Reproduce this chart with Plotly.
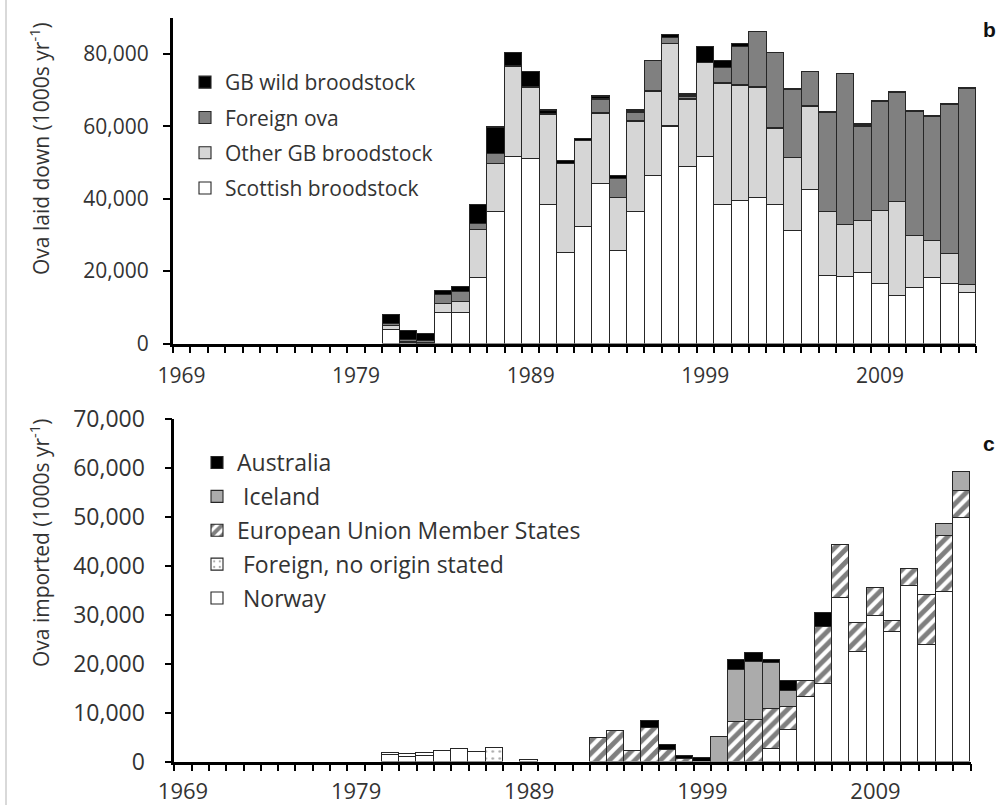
import plotly.graph_objects as go

W, H = 998, 805

# ---------------- data ----------------
years = list(range(1981, 2015))

# Panel b: Ova laid down (1000s per year)
scottish_bs = [3950, 200, 100, 8460, 8460, 18200, 36400, 51500, 51100, 38250,
               25100, 32270, 44100, 25560, 36400, 46250, 59770, 48730, 51490, 38250,
               39350, 40270, 38250, 31080, 42570, 18670, 18390, 19590, 16640, 13330,
               15450, 18210, 16640, 14070]
other_gb_bs = [900, 200, 200, 2570, 3130, 13340, 13240, 24900, 19500, 25000,
               24600, 23630, 19300, 14700, 25000, 23450, 22990, 18490, 26020, 33560,
               31910, 30530, 21150, 20230, 22720, 17740, 14340, 14250, 20140, 25840,
               14430, 10110, 8280, 2300]
foreign_ova = [650, 600, 600, 2580, 2750, 1560, 2760, 300, 200, 100,
               0, 0, 3950, 5340, 2300, 8460, 1650, 1000, 0, 4320,
               10850, 15270, 20870, 18850, 9920, 27310, 41840, 26000, 30160, 30070,
               34300, 34300, 41100, 53970]
gb_wild_bs = [2600, 2700, 1700, 920, 1380, 5330, 7170, 3600, 4300, 1100,
              700, 740, 920, 640, 740, 0, 920, 500, 4600, 2030,
              830, 0, 0, 0, 0, 0, 0, 500, 0, 0,
              0, 0, 0, 0]

# Panel c: Ova imported (1000s per year)
norway = [1300, 1000, 1100, 2220, 2490, 1880, 0, 0, 400, 0,
          0, 0, 0, 0, 0, 0, 0, 0, 0, 0,
          0, 0, 2600, 6490, 13180, 15910, 33330, 22400, 29710, 26500,
          35930, 23770, 34700, 49860]
foreign_no_origin = [500, 470, 570, 0, 0, 0, 2700, 0, 0, 0,
                     0, 0, 0, 0, 0, 0, 0, 0, 0, 0,
                     0, 0, 0, 0, 0, 0, 0, 0, 0, 0,
                     0, 0, 0, 0]
eu_states = [0, 0, 0, 0, 0, 0, 0, 0, 0, 0,
             0, 0, 4900, 6300, 2150, 6800, 2360, 500, 0, 0,
             8060, 8540, 8190, 4640, 3210, 11610, 10930, 5950, 5670, 2190,
             3410, 10240, 11400, 5330]
iceland = [0, 0, 0, 0, 0, 0, 0, 0, 0, 0,
           0, 0, 0, 0, 0, 0, 0, 0, 0, 5000,
           10720, 11810, 9360, 3280, 0, 0, 0, 0, 0, 0,
           0, 0, 2390, 3890]
australia = [0, 0, 0, 0, 0, 0, 0, 0, 0, 0,
             0, 0, 0, 0, 0, 1500, 1020, 600, 700, 0,
             1910, 1850, 680, 1980, 0, 2870, 0, 0, 0, 0,
             0, 0, 0, 0]

tick_years = [1969, 1979, 1989, 1999, 2009]
ticks_b = [0, 20000, 40000, 60000, 80000]
ticks_c = [0, 10000, 20000, 30000, 40000, 50000, 60000, 70000]


def nz(v):
    return [x if x else None for x in v]


def px_x(p):
    return p / W


def px_y(p):
    return 1 - p / H


FONT = "Open Sans"
TXT = "#333333"
OUTLINE = dict(color="#262626", width=1.1)

fig = go.Figure()

# ---- panel b traces (stack bottom -> top); legendrank puts top segment first
b_series = [
    ("Scottish broodstock", scottish_bs, "#ffffff", 4),
    ("Other GB broodstock", other_gb_bs, "#d6d6d6", 3),
    ("Foreign ova", foreign_ova, "#808080", 2),
    ("GB wild broodstock", gb_wild_bs, "#000000", 1),
]
for name, vals, col, rank in b_series:
    fig.add_trace(go.Bar(x=years, y=nz(vals), name=name, xaxis="x", yaxis="y",
                         marker=dict(color=col, line=OUTLINE),
                         legend="legend", legendgroup="b%d" % rank, legendrank=rank))

# ---- panel c traces
c_series = [
    ("\u00a0Norway", norway, dict(color="#ffffff", line=OUTLINE), 5),
    ("\u00a0Foreign, no origin stated", foreign_no_origin,
     dict(color="#ffffff", line=OUTLINE,
          pattern=dict(shape=".", fgcolor="#555555", bgcolor="#ffffff", size=7, solidity=0.12)), 4),
    ("European Union Member States", eu_states,
     dict(color="#ffffff", line=OUTLINE,
          pattern=dict(shape="/", fgcolor="#000000", bgcolor="#ffffff", size=9, solidity=0.55)), 3),
    ("\u00a0Iceland", iceland, dict(color="#ababab", line=OUTLINE), 2),
    ("Australia", australia, dict(color="#000000", line=OUTLINE), 1),
]
for name, vals, mk, rank in c_series:
    fig.add_trace(go.Bar(x=years, y=nz(vals), name=name, xaxis="x2", yaxis="y2",
                         marker=mk, legend="legend2", legendgroup="c%d" % rank,
                         legendrank=rank))

axis_common = dict(showline=True, linecolor="black", showgrid=False, zeroline=False,
                   automargin=False)

fig.update_layout(
    width=W, height=H,
    margin=dict(l=0, r=0, t=0, b=0, autoexpand=False),
    paper_bgcolor="white", plot_bgcolor="white",
    barmode="stack", bargap=0,
    font=dict(family=FONT, color=TXT),
    showlegend=True,
    xaxis=dict(domain=[px_x(172.7), px_x(976)], range=[1968.5, 2014.5],
               tickvals=tick_years, ticks="", ticklabelstandoff=12,
               tickfont=dict(size=21, color=TXT), anchor="y",
               minor=dict(ticks="outside", tick0=1968.5, dtick=1, ticklen=7,
                          tickwidth=2, tickcolor="black"),
               linewidth=2.5, **axis_common),
    yaxis=dict(domain=[px_y(343.5), px_y(17.6)], range=[0, 90000],
               tickvals=ticks_b, tickformat=",", ticks="outside", ticklen=7,
               tickwidth=2, tickcolor="black", ticklabelstandoff=10,
               tickfont=dict(size=21, color=TXT), anchor="x",
               linewidth=2.5, **axis_common),
    xaxis2=dict(domain=[px_x(174.3), px_x(970.7)], range=[1968.5, 2014.5],
                tickvals=tick_years, ticks="", ticklabelstandoff=8,
                tickfont=dict(size=22, color=TXT), anchor="y2",
                minor=dict(ticks="outside", tick0=1968.5, dtick=1, ticklen=7,
                           tickwidth=2, tickcolor="black"),
                linewidth=2.5, **axis_common),
    yaxis2=dict(domain=[px_y(761.5), px_y(419)], range=[0, 70000],
                tickvals=ticks_c, tickformat=",", ticks="outside", ticklen=7,
                tickwidth=2, tickcolor="black", ticklabelstandoff=15,
                tickfont=dict(size=23, color=TXT), anchor="x2",
                linewidth=2.5, **axis_common),
    legend=dict(x=px_x(185), y=px_y(62), xanchor="left", yanchor="top",
                bgcolor="rgba(0,0,0,0)", font=dict(size=21, color=TXT),
                traceorder="grouped", tracegroupgap=5),
    legend2=dict(x=px_x(197), y=px_y(441), xanchor="left", yanchor="top",
                 bgcolor="rgba(0,0,0,0)", font=dict(size=23, color=TXT),
                 traceorder="grouped", tracegroupgap=1),
    annotations=[
        dict(text="Ova laid down (1000s yr<sup>-1</sup>)", xref="paper", yref="paper",
             x=px_x(39), y=px_y(149), textangle=-90, showarrow=False,
             font=dict(size=21, color=TXT), xanchor="center", yanchor="middle"),
        dict(text="Ova imported (1000s yr<sup>-1</sup>)", xref="paper", yref="paper",
             x=px_x(39), y=px_y(543), textangle=-90, showarrow=False,
             font=dict(size=21, color=TXT), xanchor="center", yanchor="middle"),
        dict(text="<b>b</b>", xref="paper", yref="paper", x=px_x(989), y=px_y(29),
             showarrow=False, font=dict(size=21, color="#111", family="Liberation Sans"),
             xanchor="center", yanchor="middle"),
        dict(text="<b>c</b>", xref="paper", yref="paper", x=px_x(989), y=px_y(443),
             showarrow=False, font=dict(size=21, color="#111", family="Liberation Sans"),
             xanchor="center", yanchor="middle"),
    ],
    shapes=[dict(type="line", xref="paper", yref="paper", x0=px_x(6), x1=px_x(6),
                 y0=0, y1=1, line=dict(color="#d9d9d9", width=2))],
)

fig.write_html("out.html",
               config={"displayModeBar": False},
               post_script="document.body.style.margin='0';"
                           "document.body.style.overflow='hidden';")
